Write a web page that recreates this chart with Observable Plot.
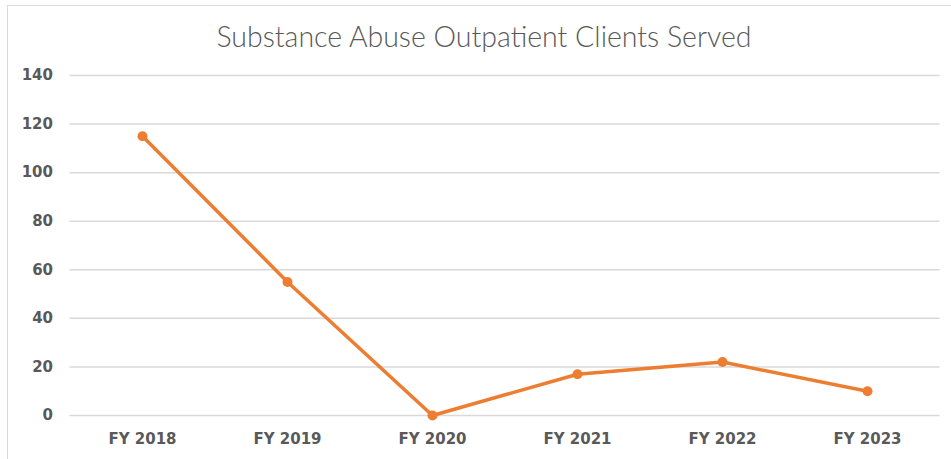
<!DOCTYPE html>
<html>
<head>
<meta charset="utf-8">
<script src="https://cdn.jsdelivr.net/npm/d3@7"></script>
<script src="https://cdn.jsdelivr.net/npm/@observablehq/plot@0.6"></script>
<style>
  html, body { margin: 0; padding: 0; background: #fff; width: 951px; height: 459px; overflow: hidden; }
  #frame { position: absolute; left: 7px; top: 5px; width: 944px; height: 460px; border-left: 1.5px solid #d9d9d9; border-top: 1.5px solid #d9d9d9; box-sizing: border-box; }
  #title { position: absolute; left: 0; top: 0; width: 951px; height: 60px; padding-left: 17px; box-sizing: border-box; text-align: center; font-family: Lato, sans-serif; font-weight: 300; font-size: 28.5px; color: #595959; line-height: 72px; }
  #chart { position: absolute; left: 0; top: 60px; }
  #chart svg { font-family: "DejaVu Sans", sans-serif; }
</style>
</head>
<body>
<div id="frame"></div>
<div id="title">Substance Abuse Outpatient Clients Served</div>
<div id="chart"></div>
<script>
const years = ["FY 2018", "FY 2019", "FY 2020", "FY 2021", "FY 2022", "FY 2023"];
const clients = [115, 55, 0, 17, 22, 10];
const yTicks = [0, 20, 40, 60, 80, 100, 120, 140];

const data = years.map((year, i) => ({year, value: clients[i]}));

const chart = Plot.plot({
  width: 951,
  height: 399,
  marginTop: 15,
  marginBottom: 44,
  marginLeft: 69.5,
  marginRight: 11.5,
  style: {fontSize: "15px", fontWeight: "bold", color: "#595959", background: "transparent"},
  x: {type: "point", domain: years, padding: 0.5, label: null},
  y: {domain: [0, 140], ticks: yTicks, label: null},
  marks: [
    Plot.gridY(yTicks, {stroke: "#d9d9d9", strokeOpacity: 1, strokeWidth: 1.5}),
    Plot.axisY(yTicks, {tickSize: 0, tickPadding: 17, label: null, fill: "#595959"}),
    Plot.axisX(years, {tickSize: 0, tickPadding: 18, label: null, fill: "#595959"}),
    Plot.line(data, {x: "year", y: "value", stroke: "#ED7D31", strokeWidth: 3.5}),
    Plot.dot(data, {x: "year", y: "value", fill: "#ED7D31", r: 5})
  ]
});
document.getElementById("chart").appendChild(chart);
</script>
</body>
</html>
